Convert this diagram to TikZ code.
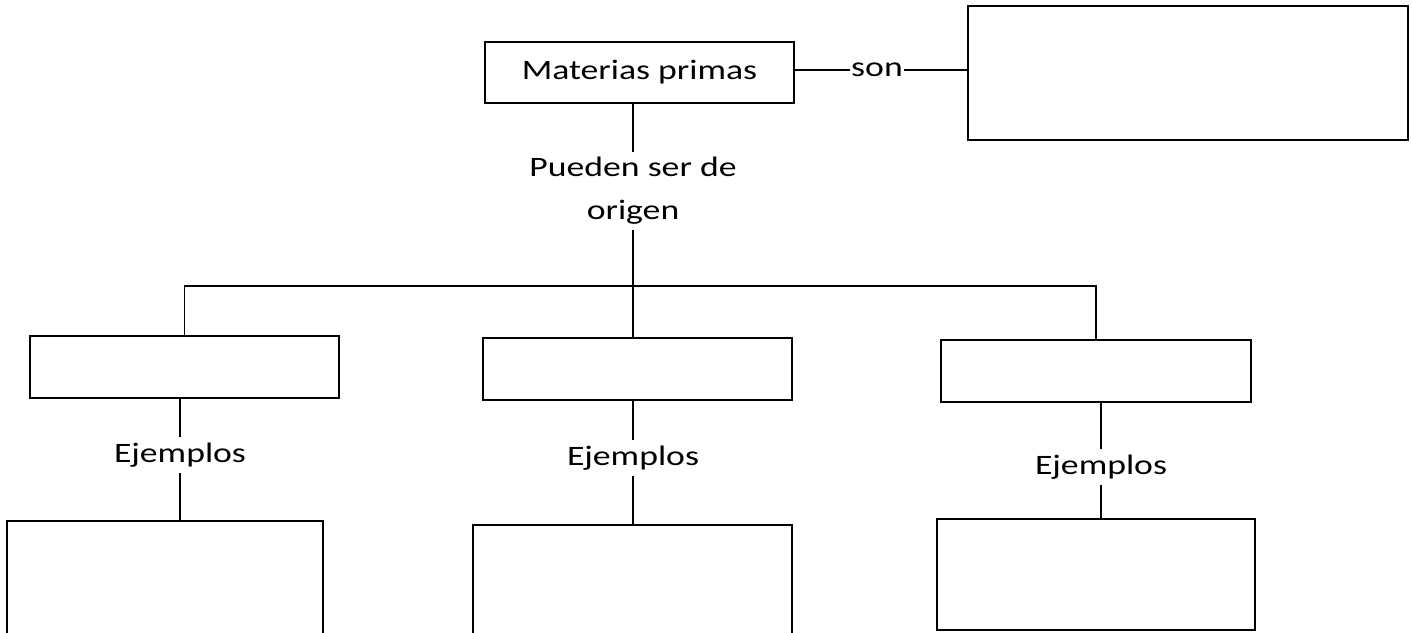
\documentclass[tikz,border=0pt]{standalone}
\usepackage{fontspec}
\setmainfont[FakeStretch=1.27]{Carlito}
\usetikzlibrary{positioning,calc}

\begin{document}
\begin{tikzpicture}[x=0.02cm,y=-0.02cm,
  caja/.style={draw,line width=1pt,inner sep=0pt,minimum width=6.18cm,minimum height=1.24cm},
  etiq/.style={inner sep=2pt,font=\fontsize{16}{24.5}\selectfont},
  enlace/.style={line width=1pt}]
\useasboundingbox (0,0) rectangle (1412,632);
\clip (0,0) rectangle (1412,632);

\node[caja,etiq,inner sep=0pt,minimum height=1.22cm] (mp) at (639.5,72.5) {Materias primas};
\node[etiq,inner sep=0.5pt] (son) at (877,70) {son};
\node[caja,minimum width=8.8cm,minimum height=2.68cm] (def) at (1188,73) {};

\node[etiq,align=center,inner sep=3pt] (orig) at (633,191) {Pueden ser de\\origen};
\coordinate (fork) at (633,286);

\node[caja] (mid1) at (184.5,367) {};
\node[caja] (mid2) at (637.5,369) {};
\node[caja,minimum width=6.2cm] (mid3) at (1096,371) {};

\node[etiq,inner sep=3pt] (ej1) at (180,455) {Ejemplos};
\node[etiq,inner sep=3pt] (ej2) at (633,458) {Ejemplos};
\node[etiq,inner sep=3pt] (ej3) at (1101,467) {Ejemplos};

\node[caja,minimum width=6.32cm,minimum height=3cm] (bot1) at (165,596) {};
\node[caja,minimum width=6.38cm,minimum height=3cm] (bot2) at (632.5,600) {};
\node[caja,minimum width=6.36cm,minimum height=2.22cm] (bot3) at (1096,574.5) {};

% conectores
\draw[enlace] (son.west -| mp.east) -- (son.west);
\draw[enlace] (son.east) -- (son.east -| def.west);
\draw[enlace] (orig.north |- mp.south) -- (orig.north);
\draw[enlace] (orig.south) -- (fork);
\draw[enlace] (fork) -| (mid1.north);
\draw[enlace] (fork) -- (mid2.north -| fork);
\draw[enlace] (fork) -| (mid3.north);
\foreach \i in {1,2,3}{
  \draw[enlace] (ej\i.north) -- (ej\i.north |- mid\i.south);
  \draw[enlace] (ej\i.south) -- (ej\i.south |- bot\i.north);
}
\end{tikzpicture}
\end{document}
